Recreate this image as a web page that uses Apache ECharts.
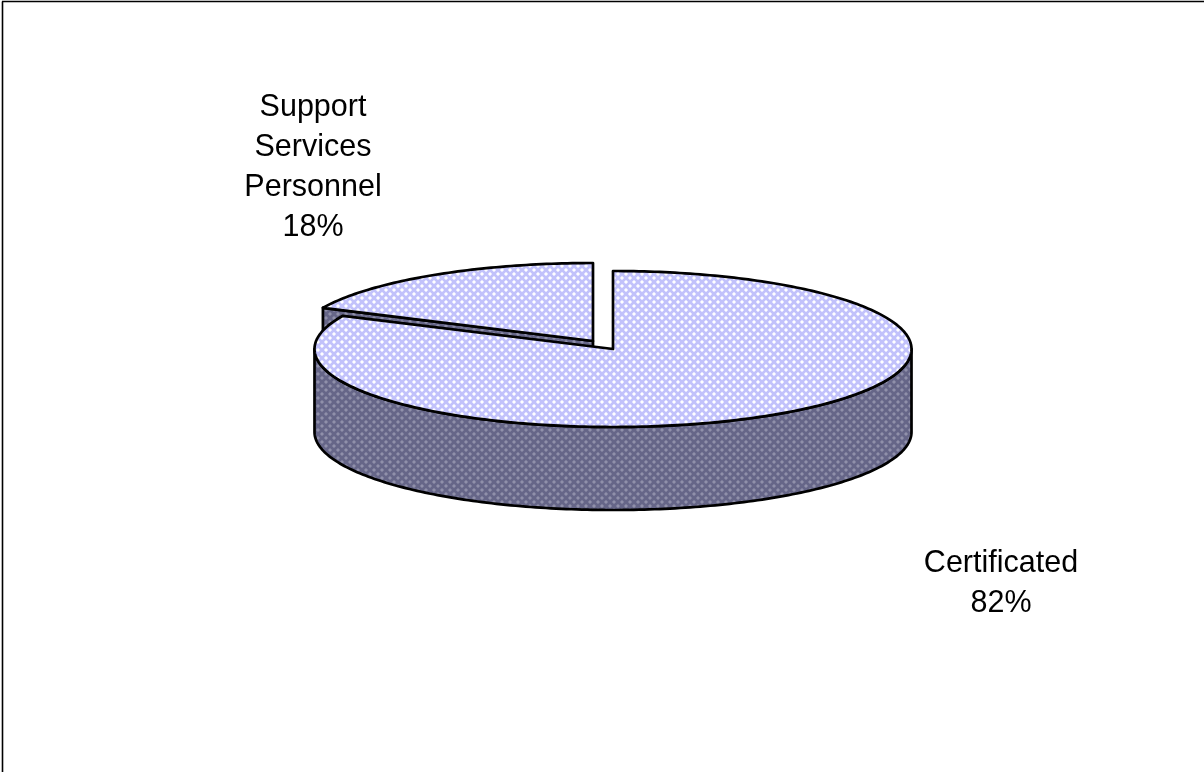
<!DOCTYPE html>
<html>
<head>
<meta charset="utf-8">
<style>html,body{margin:0;padding:0;background:#fff}#c{width:1204px;height:772px}</style>
<script src="https://cdn.jsdelivr.net/npm/echarts@6/dist/echarts.min.js"></script>
</head>
<body>
<div id="c"></div>
<script>
// Data, drawn in back-to-front order
const categories = ['Support\nServices\nPersonnel', 'Certificated'];
const seriesValues = [18, 82];
const startAngles = [295.2, 0];

// Layout
const CX = 613, CY = 349, RX = 298.5, RY = 78, DEPTH = 83;
const offsets = [[-20, -8], [0, 0]];
const labelPos = [[313, 168], [1001, 584]];
const FONT = '30.5px "Liberation Sans", Arial, sans-serif';

function tile(base, mid, spot) {
  const c = document.createElement('canvas');
  c.width = c.height = 8;
  const g = c.getContext('2d');
  g.fillStyle = base; g.fillRect(0, 0, 8, 8);
  [[1, 1], [5, 5]].forEach(([x, y]) => {
    g.fillStyle = mid;
    g.fillRect(x - 1, y, 4, 2);
    g.fillRect(x, y - 1, 2, 4);
    g.fillStyle = spot;
    g.fillRect(x, y, 2, 2);
  });
  return { image: c, repeat: 'repeat' };
}
const topFill = tile('#c2c2fb', '#e4e4ff', '#ffffff');
const sideFill = tile('#666688', '#7c7c9a', '#9090aa');

function pt(a, ox, oy) {
  const r = a * Math.PI / 180;
  return [CX + ox + RX * Math.sin(r), CY + oy - RY * Math.cos(r)];
}
function arc(a0, a1, ox, oy) {
  const out = [];
  const n = Math.max(2, Math.ceil(Math.abs(a1 - a0)));
  for (let i = 0; i <= n; i++) out.push(pt(a0 + (a1 - a0) * i / n, ox, oy));
  return out;
}
const lineStyle = { stroke: '#000', lineWidth: 2.7, lineJoin: 'round' };

function renderSlice(params, api) {
  const i = params.dataIndex;
  const v = api.value(0);
  const total = seriesValues.reduce((s, x) => s + x, 0);
  const a0 = startAngles[i], a1 = a0 + v / total * 360;
  const [ox, oy] = offsets[i];
  const apex = [CX + ox, CY + oy];
  const children = [];
  const poly = (points, fill) => children.push({
    type: 'polygon', shape: { points }, style: Object.assign({ fill }, lineStyle)
  });
  // flat cut face looking towards the viewer
  if (Math.sin(a0 * Math.PI / 180) < 0) {
    const e = pt(a0, ox, oy);
    poly([e, apex, [apex[0], apex[1] + DEPTH], [e[0], e[1] + DEPTH]], sideFill);
  }
  // rim on the front half of the ellipse
  const f0 = Math.max(a0, 90), f1 = Math.min(a1, 270);
  if (f1 > f0) {
    const upper = arc(f0, f1, ox, oy);
    const lower = upper.slice().reverse().map(p => [p[0], p[1] + DEPTH]);
    poly(upper.concat(lower), sideFill);
  }
  // top face
  poly([apex].concat(arc(a0, a1, ox, oy)), topFill);
  // label
  const pct = Math.round(v / total * 100);
  children.push({
    type: 'text', z2: 10,
    style: {
      text: categories[i] + '\n' + pct + '%',
      x: labelPos[i][0], y: labelPos[i][1],
      align: 'center', verticalAlign: 'middle',
      font: FONT, lineHeight: 40, fill: '#000'
    }
  });
  return { type: 'group', children };
}

const chart = echarts.init(document.getElementById('c'), null, { renderer: 'canvas' });
chart.setOption({
  animation: false,
  backgroundColor: '#fff',
  graphic: [
    { type: 'line', shape: { x1: 2.5, y1: 1.5, x2: 2.5, y2: 772 }, style: { stroke: '#000', lineWidth: 1.6 } },
    { type: 'line', shape: { x1: 2, y1: 1.5, x2: 1204, y2: 1.5 }, style: { stroke: '#000', lineWidth: 1.6 } }
  ],
  series: [{
    type: 'custom',
    coordinateSystem: 'none',
    renderItem: renderSlice,
    data: seriesValues.map((v, i) => ({ name: categories[i], value: [v] })),
    silent: true
  }]
});
</script>
</body>
</html>
